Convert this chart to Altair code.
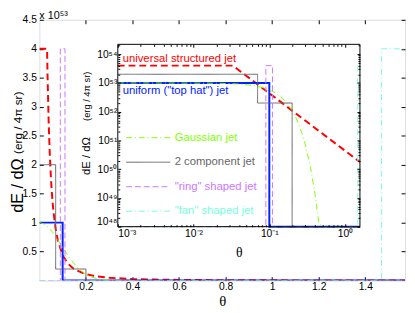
import altair as alt
import pandas as pd

HALF_PI = 1.5708
FONT = "Liberation Sans"
SERIF = "Liberation Serif"

# ---------------- data (E in units of 1e53 erg / 4pi sr) ----------------
models = ["universal structured jet", 'uniform ("top hat") jet', "Gaussian jet",
          "2 component jet", '"ring" shaped jet', '"fan" shaped jet']
colors = ["#ff0000", "#0022ff", "#7fff00", "#666666", "#cc77ff", "#77ffdd"]
dashes = [[7, 4], [1, 0], [6, 3, 1, 3], [1, 0], [6, 3], [6, 3, 1, 3]]
widths = [2, 2, 1, 1, 1, 1]

theta_universal = [0, 0.033, 0.035, 0.04, 0.045, 0.05, 0.055, 0.06, 0.07, 0.08, 0.1, 0.12,
                   0.15, 0.2, 0.25, 0.3, 0.4, 0.5, 0.6, 0.8, 1.0, 1.2, 1.4, HALF_PI]
E_universal = [4.0, 4.0, 3.556, 2.723, 2.151, 1.742, 1.440, 1.210, 0.889, 0.681, 0.436, 0.303,
               0.194, 0.109, 0.0697, 0.0484, 0.0272, 0.0174, 0.0121, 0.0068, 0.00436, 0.00303,
               0.00222, 0.00177]

theta_tophat = [0, 0.1, 0.1, HALF_PI]
E_tophat = [1.0, 1.0, 0, 0]

theta_gauss = [0, 0.02, 0.04, 0.06, 0.08, 0.1, 0.12, 0.14, 0.16, 0.18, 0.2, 0.225, 0.25,
               0.275, 0.3, 0.35, 0.4, 0.45, 0.5, 0.6, 0.8, 1.0, 1.2, 1.4, HALF_PI]
E_gauss = [1.0, 0.9781, 0.9152, 0.8192, 0.7015, 0.5746, 0.4503, 0.3376, 0.2421, 0.1661,
           0.1090, 0.0605, 0.03135, 0.01515, 0.006832, 0.001129, 0.0001414, 1.34e-5,
           9.66e-7, 2.18e-9, 0, 0, 0, 0, 0]

theta_two = [0, 0.07, 0.07, 0.2, 0.2, HALF_PI]
E_two = [2.0, 2.0, 0.2, 0.2, 0, 0]

theta_ring = [0, 0.09, 0.09, 0.11, 0.11, HALF_PI]
E_ring = [0, 0, 4.0, 4.0, 0, 0]

theta_fan = [0, 1.47, 1.47, HALF_PI]
E_fan = [0, 0, 4.0, 4.0]

main_x_ticks = [0.2, 0.4, 0.6, 0.8, 1.0, 1.2, 1.4]
main_y_ticks = [0.5, 1.0, 1.5, 2.0, 2.5, 3.0, 3.5, 4.0, 4.5]
inset_x_exps = [-3, -2, -1, 0]
inset_y_exps = [48, 49, 50, 51, 52, 53, 54]
INSET_X_DOMAIN = [1e-3, HALF_PI]
INSET_Y_DOMAIN = [1e48, 2.2e54]

series = [(models[0], theta_universal, E_universal), (models[1], theta_tophat, E_tophat),
          (models[2], theta_gauss, E_gauss), (models[3], theta_two, E_two),
          (models[4], theta_ring, E_ring), (models[5], theta_fan, E_fan)]
rows = []
for name, th, ee in series:
    for i, (t, e) in enumerate(zip(th, ee)):
        rows.append({"model": name, "theta": t, "E": e, "i": i})
df = pd.DataFrame(rows)

# ---------------- layout constants (pixels, view coordinates) ----------------
W, H = 373, 266
IX0, IX1 = 80, 327      # inset left / right
IY0, IY1 = 211, 25      # inset bottom / top
TS, ITS, MTS = 4, 3, 2

inset_x_ticks = [10.0 ** e for e in inset_x_exps]
inset_y_ticks = [10.0 ** e for e in inset_y_exps]
inset_x_minor = [m * 10.0 ** e for e in range(-3, 0) for m in range(2, 10)]
inset_y_minor = [m * 10.0 ** e for e in range(48, 54) for m in range(2, 10)] + [2e54]

SUP = str.maketrans("-0123456789", "⁻⁰¹²³⁴⁵⁶⁷⁸⁹")


def pow_expr(exps):
    parts = [f"round(log(datum.value)/LN10) == {e} ? '10{str(e).translate(SUP)}'" for e in exps]
    return " : ".join(parts) + " : ''"


legend = alt.Legend(
    title=None, values=models[2:], orient="none", legendX=88, legendY=109,
    symbolType="stroke", symbolSize=2025, symbolStrokeWidth=1, clipHeight=22.5,
    labelFontSize=11.5, labelFont=FONT, labelOffset=4, rowPadding=2, padding=0,
    labelColor=alt.ExprRef("scale('color', datum.value)"),
)
color_enc = alt.Color("model:N", scale=alt.Scale(domain=models, range=colors), legend=legend)
dash_enc = alt.StrokeDash("model:N", scale=alt.Scale(domain=models, range=dashes), legend=legend)
width_enc = alt.StrokeWidth("model:N", scale=alt.Scale(type="ordinal", domain=models, range=widths),
                            legend=None)

mx_scale = alt.Scale(domain=[0, HALF_PI], nice=False, zero=False)
my_scale = alt.Scale(domain=[0, 4.5], nice=False)
ix_scale = alt.Scale(type="log", domain=INSET_X_DOMAIN, range=[IX0, IX1], clamp=True, nice=False)
iy_scale = alt.Scale(type="log", domain=INSET_Y_DOMAIN, range=[IY0, IY1], clamp=True, nice=False)

common = dict(domain=False, grid=False, tickColor="black", labelColor="black", labelFont=FONT)

# ---------------- main plot ----------------
main_lines = alt.Chart(df).mark_line(clip=True).encode(
    x=alt.X("theta:Q", scale=mx_scale, axis=alt.Axis(
        orient="bottom", values=main_x_ticks, format="~g", tickSize=TS, offset=-TS,
        labelPadding=1, labelFontSize=10.5, title="θ", titleFont=SERIF, titleFontSize=15,
        titleFontWeight="normal", titlePadding=2, titleColor="black", zindex=0, **common)),
    y=alt.Y("E:Q", scale=my_scale, axis=alt.Axis(
        orient="left", values=main_y_ticks, format="~g", tickSize=TS, offset=-TS,
        labelPadding=3, labelFontSize=10.5, title=None, zindex=0, **common)),
    color=color_enc, strokeDash=dash_enc, strokeWidth=width_enc, order=alt.Order("i:Q"),
)

dummy = pd.DataFrame({"v": [1.0]})
main_frame = alt.Chart(dummy).mark_point(opacity=0).encode(
    x=alt.X("v:Q", scale=mx_scale, axis=alt.Axis(
        orient="top", values=main_x_ticks, tickSize=TS, offset=-TS, labels=False,
        title=None, zindex=0, **common)),
    y=alt.Y("v:Q", scale=my_scale, axis=alt.Axis(
        orient="right", values=main_y_ticks, tickSize=TS, offset=-TS, labels=False,
        title=None, zindex=0, **common)),
)

# ---------------- inset ----------------
ix_axis = alt.Axis(orient="bottom", values=inset_x_ticks, labelExpr=pow_expr(inset_x_exps),
                   tickSize=ITS, offset=-(H - IY0) - ITS, labelPadding=2, labelFontSize=10.5,
                   title="θ", titleFont=SERIF, titleFontSize=14, titleFontWeight="normal",
                   titlePadding=7, titleColor="black", zindex=1, **common)
iy_axis = alt.Axis(orient="left", values=inset_y_ticks, labelExpr=pow_expr(inset_y_exps),
                   tickSize=ITS, offset=-IX0 - ITS, labelPadding=1, labelFontSize=10.5,
                   labelFlush=True, title=None, zindex=1, **common)

box = pd.DataFrame({"x1": [INSET_X_DOMAIN[0]], "x2": [INSET_X_DOMAIN[1]],
                    "y1": [INSET_Y_DOMAIN[0]], "y2": [INSET_Y_DOMAIN[1]]})


def box_layer(**mark_kw):
    return alt.Chart(box).mark_rect(**mark_kw).encode(
        x=alt.X("x1:Q", scale=ix_scale, axis=ix_axis), x2="x2:Q",
        y=alt.Y("y1:Q", scale=iy_scale, axis=iy_axis), y2="y2:Q")


inset_lines = alt.Chart(df).transform_calculate(
    tl="max(datum.theta, 1e-4)", El="max(datum.E * 1e53, 1e40)"
).mark_line().encode(
    x=alt.X("tl:Q", scale=ix_scale, axis=ix_axis),
    y=alt.Y("El:Q", scale=iy_scale, axis=iy_axis),
    color=color_enc, strokeDash=dash_enc, strokeWidth=width_enc, order=alt.Order("i:Q"),
)

inset = alt.layer(
    box_layer(fill="white", strokeOpacity=0),
    inset_lines,
    box_layer(fill="white", fillOpacity=0, stroke="black", strokeWidth=1),
)

inset_frame = alt.Chart(dummy).mark_point(opacity=0).encode(
    x=alt.X("v:Q", scale=ix_scale, axis=alt.Axis(
        orient="top", values=inset_x_ticks, tickSize=ITS, offset=-IY1 - ITS, labels=False,
        title=None, zindex=1, **common)),
    y=alt.Y("v:Q", scale=iy_scale, axis=alt.Axis(
        orient="right", values=inset_y_ticks, tickSize=ITS, offset=-(W - IX1) - ITS,
        labels=False, title=None, zindex=1, **common)),
)
inset_minor_bl = alt.Chart(dummy).mark_point(opacity=0).encode(
    x=alt.X("v:Q", scale=ix_scale, axis=alt.Axis(
        orient="bottom", values=inset_x_minor, tickSize=MTS, offset=-(H - IY0) - MTS,
        labels=False, title=None, zindex=1, **common)),
    y=alt.Y("v:Q", scale=iy_scale, axis=alt.Axis(
        orient="left", values=inset_y_minor, tickSize=MTS, offset=-IX0 - MTS,
        labels=False, title=None, zindex=1, **common)),
)
inset_minor_tr = alt.Chart(dummy).mark_point(opacity=0).encode(
    x=alt.X("v:Q", scale=ix_scale, axis=alt.Axis(
        orient="top", values=inset_x_minor, tickSize=MTS, offset=-IY1 - MTS,
        labels=False, title=None, zindex=1, **common)),
    y=alt.Y("v:Q", scale=iy_scale, axis=alt.Axis(
        orient="right", values=inset_y_minor, tickSize=MTS, offset=-(W - IX1) - MTS,
        labels=False, title=None, zindex=1, **common)),
)


# ---------------- texts ----------------
def text(t, x, y, size, color="black", angle=0, font=FONT, align="center", baseline="middle"):
    return alt.Chart(dummy).mark_text(
        text=t, fontSize=size, color=color, angle=angle, font=font, align=align,
        baseline=baseline).encode(x=alt.value(x), y=alt.value(y))


texts = [
    text("x 10⁵³", 0, -1, 11, align="left", baseline="alphabetic"),
    text("dE / dΩ", -22, 169, 16.5, angle=270),
    text("(erg / 4π sr)", -22, 105, 12, angle=270),
    text("dE / dΩ", 49, 139, 11.5, angle=270),
    text("(erg / 4π sr)", 49, 78, 9.5, angle=270),
    text("universal structured jet", 85, 40, 11.5, color=colors[0], align="left"),
    text('uniform ("top hat") jet', 85, 73, 11.5, color=colors[1], align="left"),
]

chart = alt.layer(
    main_lines, main_frame, inset, inset_frame, inset_minor_bl, inset_minor_tr, *texts
).resolve_scale(x="independent", y="independent").properties(
    width=W, height=H,
    padding={"left": 32, "top": 9, "right": 2, "bottom": 30},
    autosize=alt.AutoSizeParams(type="none"),
).configure_view(stroke="black", strokeWidth=1, fill="white").configure(background="white")

chart.save("out.html", embed_options={"renderer": "svg", "actions": False})
